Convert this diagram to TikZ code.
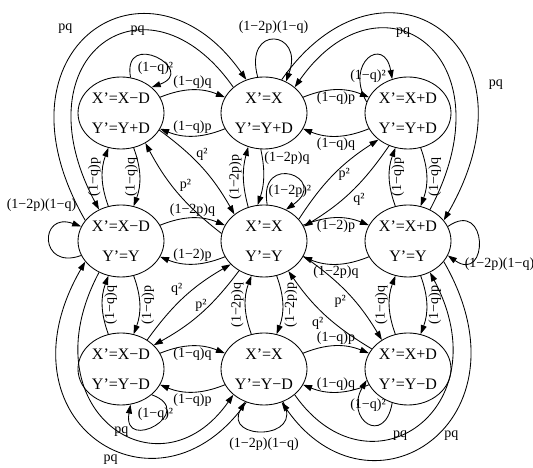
\documentclass[tikz,border=0pt]{standalone}
\usepackage{fontspec}
\setmainfont{Liberation Serif}
\usepackage{tikz}
\usetikzlibrary{shapes.geometric,arrows.meta,positioning}

\begin{document}
\begin{tikzpicture}[x=1pt, y=1pt,
  state/.style={draw, ellipse, line width=0.85pt, minimum width=86pt, minimum height=72pt, inner sep=0pt, align=center, font=\fontsize{16}{30}\selectfont},
  lbl/.style={font=\fontsize{14}{16}\selectfont, inner sep=1.5pt},
  vlbl/.style={lbl, rotate=90},
  arr/.style={-{Triangle[length=9pt, width=6pt]}, line width=0.85pt},
]
\useasboundingbox (0,0) rectangle (533,468);

% === States ===
\node[state] (mp) at (121,355) {X'=X−D\\Y'=Y+D};
\node[state] (zp) at (264,355) {X'=X\\Y'=Y+D};
\node[state] (pp) at (408,355) {X'=X+D\\Y'=Y+D};
\node[state] (mz) at (121,227) {X'=X−D\\Y'=Y};
\node[state] (zz) at (264,227) {X'=X\\Y'=Y};
\node[state] (pz) at (408,227) {X'=X+D\\Y'=Y};
\node[state] (mm) at (121,99) {X'=X−D\\Y'=Y−D};
\node[state] (zm) at (264,99) {X'=X\\Y'=Y−D};
\node[state] (pm) at (408,99) {X'=X+D\\Y'=Y−D};

% === Self loops ===
\draw[arr] (mp.75) .. controls +(100:50) and +(20:50) .. (mp.40) node[lbl, pos=0.5, below=2pt] {(1−q)²};
\draw[arr] (zp.100) .. controls +(105:55) and +(70:55) .. (zp.55) node[lbl, pos=0.5, above=5pt] {(1−2p)(1−q)};
\draw[arr] (pp.165) .. controls +(120:45) and +(100:45) .. (pp.115) node[lbl, pos=0.5, below=9pt] {(1−q)²};
\draw[arr] (mz.200) .. controls +(200:45) and +(160:45) .. (mz.160) node[lbl, pos=1, above left=13pt and 3pt] {(1−2p)(1−q)};
\draw[arr] (zz.85) .. controls +(100:55) and +(35:55) .. (zz.55) node[lbl, pos=0.5, below=8pt] {(1−2p)²};
\draw[arr] (pz.20) .. controls +(35:50) and +(-35:50) .. (pz.-20) node[lbl, pos=1, below right=0pt and 15pt] {(1−2p)(1−q)};
\draw[arr] (mm.-40) .. controls +(-20:50) and +(-100:50) .. (mm.-75) node[lbl, pos=0.5, above=2pt] {(1−q)²};
\draw[arr] (zm.-60) .. controls +(-60:45) and +(-120:45) .. (zm.-120) node[lbl, pos=0.5, below=5pt] {(1−2p)(1−q)};
\draw[arr] (pm.-115) .. controls +(-100:45) and +(-120:45) .. (pm.-165) node[lbl, pos=0.5, above=9pt] {(1−q)²};

% === Horizontal neighbours ===
\draw[arr] (mp) to[bend left=22] node[lbl, above] {(1−q)q} (zp);
\draw[arr] (zp) to[bend left=22] node[lbl, above] {(1−q)p} (mp);
\draw[arr] (zp) to[bend left=22] node[lbl, below] {(1−q)p} (pp);
\draw[arr] (pp) to[bend left=22] node[lbl, below] {(1−q)q} (zp);
\draw[arr] (mz) to[bend left=22] node[lbl, above] {(1−2p)q} (zz);
\draw[arr] (zz) to[bend left=22] node[lbl, above] {(1−2)p} (mz);
\draw[arr] (zz) to[bend left=22] node[lbl, below] {(1−2)p} (pz);
\draw[arr] (pz) to[bend left=22] node[lbl, below] {(1−2p)q} (zz);
\draw[arr] (mm) to[bend left=22] node[lbl, below] {(1−q)q} (zm);
\draw[arr] (zm) to[bend left=22] node[lbl, below] {(1−q)p} (mm);
\draw[arr] (zm) to[bend left=22] node[lbl, above] {(1−q)p} (pm);
\draw[arr] (pm) to[bend left=22] node[lbl, above] {(1−q)q} (zm);

% === Vertical neighbours ===
\draw[arr] (mz) to[bend left=20] node[vlbl, anchor=south] {(1−q)p} (mp);
\draw[arr] (mp) to[bend left=20] node[vlbl, anchor=south] {(1−q)q} (mz);
\draw[arr] (mm) to[bend left=20] node[vlbl, anchor=north] {(1−q)q} (mz);
\draw[arr] (mz) to[bend left=20] node[vlbl, anchor=north] {(1−q)p} (mm);
\draw[arr] (zz.115) to[bend left=15] node[vlbl, anchor=south] {(1−2p)p} (zp.-115);
\draw[arr] (zp.-95) to[bend left=15] node[lbl, pos=0.15, anchor=west] {(1−2p)q} (zz.100);
\draw[arr] (zm) to[bend left=20] node[vlbl, anchor=south] {(1−2p)q} (zz);
\draw[arr] (zz) to[bend left=20] node[vlbl, anchor=north] {(1−2p)p} (zm);
\draw[arr] (pz) to[bend left=20] node[vlbl, anchor=north] {(1−q)p} (pp);
\draw[arr] (pp) to[bend left=20] node[vlbl, anchor=north] {(1−q)q} (pz);
\draw[arr] (pm) to[bend left=20] node[vlbl, anchor=south] {(1−q)q} (pz);
\draw[arr] (pz) to[bend left=20] node[vlbl, anchor=north] {(1−q)p} (pm);

% === Diagonals through the centre ===
\draw[arr] (mp.-24) to[bend left=12] node[lbl, above=5pt] {q²} (zz.138);
\draw[arr] (zz.170) to[bend left=12] node[lbl, above right] {p²} (mp.-51);
\draw[arr] (zz.32) to[bend left=12] node[lbl, right=3pt] {p²} (pp.-138);
\draw[arr] (pp.-120) to[bend left=12] node[lbl, below right=0pt] {q²} (zz.20);
\draw[arr] (mm.48) to[bend left=12] node[lbl, above left] {q²} (zz.-145);
\draw[arr] (zz.-130) to[bend left=12] node[lbl, above] {p²} (mm.36);
\draw[arr] (zz.-21) to[bend left=12] node[lbl, below left] {p²} (pm.132);
\draw[arr] (pm.151) to[bend left=12] node[lbl, below left] {q²} (zz.-51);

% === Long arcs round the corners ===
\draw[arr] (mz.150) .. controls +(120:200) and +(125:170) .. (zp.118) node[lbl, pos=0.45, above left=8pt and 6pt] {pq};
\draw[arr] (zp.140) .. controls +(125:150) and +(118:175) .. (mz.125) node[lbl, pos=0.35] {pq};
\draw[arr] (zp.62) .. controls +(55:175) and +(60:205) .. (pz.30) node[lbl, pos=0.7, right=14pt] {pq};
\draw[arr] (pz.55) .. controls +(62:175) and +(55:150) .. (zp.40) node[lbl, pos=0.6] {pq};
\draw[arr] (zm.-118) .. controls +(-125:155) and +(-120:185) .. (mz.-150) node[lbl, pos=0.45, below=5pt] {pq};
\draw[arr] (mz.-125) .. controls +(-118:155) and +(-125:130) .. (zm.-140) node[lbl, pos=0.55] {pq};
\draw[arr] (pz.-30) .. controls +(-60:185) and +(-55:155) .. (zm.-62) node[lbl, pos=0.45, below right] {pq};
\draw[arr] (zm.-40) .. controls +(-55:130) and +(-62:155) .. (pz.-55) node[lbl, pos=0.42] {pq};

\end{tikzpicture}
\end{document}
